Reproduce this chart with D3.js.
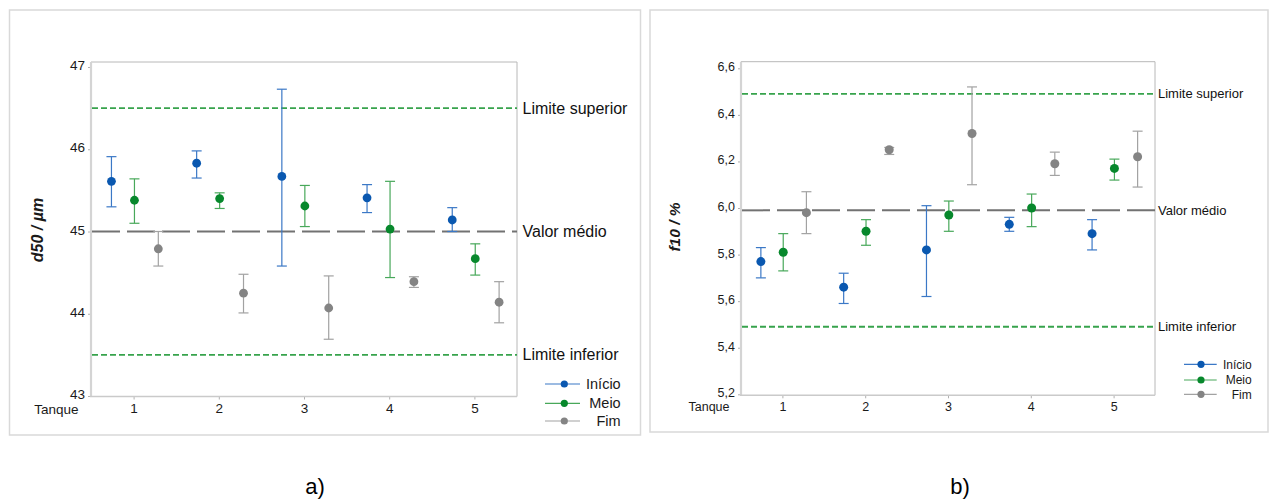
<!DOCTYPE html>
<html>
<head>
<meta charset="utf-8">
<script src="https://cdn.jsdelivr.net/npm/d3@7"></script>
<style>
  html, body { margin: 0; padding: 0; background: #fff; }
  svg { display: block; font-family: "Liberation Sans", Arial, sans-serif; }
</style>
</head>
<body>
<svg id="chart" width="1270" height="500"></svg>
<script>
// Tanks and sampling phases
const tanques = [1, 2, 3, 4, 5];
const fases = ["Início", "Meio", "Fim"];
const faseColors = ["#0a58b0", "#07882c", "#848484"];
const barColors = ["#3b78c6", "#48a85a", "#a2a2a2"];
const faseOffsets = [-0.26, 0.01, 0.29];

// d50 (µm): mean and interval bounds per phase, tanks 1..5
const d50Inicio   = [45.61, 45.83, 45.67, 45.41, 45.14];
const d50InicioLo = [45.30, 45.65, 44.58, 45.23, 45.00];
const d50InicioHi = [45.91, 45.98, 46.73, 45.57, 45.29];
const d50Meio     = [45.38, 45.40, 45.31, 45.03, 44.67];
const d50MeioLo   = [45.10, 45.28, 45.06, 44.44, 44.47];
const d50MeioHi   = [45.64, 45.47, 45.56, 45.61, 44.85];
const d50Fim      = [44.79, 44.25, 44.07, 44.39, 44.14];
const d50FimLo    = [44.58, 44.01, 43.69, 44.32, 43.89];
const d50FimHi    = [45.00, 44.48, 44.46, 44.45, 44.39];
const d50Ticks = [43, 44, 45, 46, 47];
const d50Refs = [46.5, 45.0, 43.5];

// f10 (%): mean and interval bounds per phase, tanks 1..5
const f10Inicio   = [5.77, 5.66, 5.82, 5.93, 5.89];
const f10InicioLo = [5.70, 5.59, 5.62, 5.90, 5.82];
const f10InicioHi = [5.83, 5.72, 6.01, 5.96, 5.95];
const f10Meio     = [5.81, 5.90, 5.97, 6.00, 6.17];
const f10MeioLo   = [5.73, 5.84, 5.90, 5.92, 6.12];
const f10MeioHi   = [5.89, 5.95, 6.03, 6.06, 6.21];
const f10Fim      = [5.98, 6.25, 6.32, 6.19, 6.22];
const f10FimLo    = [5.89, 6.23, 6.10, 6.14, 6.09];
const f10FimHi    = [6.07, 6.26, 6.52, 6.24, 6.33];
const f10Ticks = [5.2, 5.4, 5.6, 5.8, 6.0, 6.2, 6.4, 6.6];
const f10Refs = [6.49, 5.99, 5.49];

const refLabels = ["Limite superior", "Valor médio", "Limite inferior"];

const commaFmt = d3.formatLocale({decimal: ",", thousands: ".", grouping: [3], currency: ["", ""]});

const svg = d3.select("#chart");

function drawPanel(cfg) {
  const g = svg.append("g");

  // outer panel border
  g.append("rect")
    .attr("x", cfg.box[0]).attr("y", cfg.box[1])
    .attr("width", cfg.box[2]).attr("height", cfg.box[3])
    .attr("fill", "none").attr("stroke", "#d9d9d9").attr("stroke-width", 1.5);

  const x = d3.scaleLinear().domain([0.5, 5.5]).range([cfg.left, cfg.right]);
  const y = d3.scaleLinear().domain(cfg.yDomain).range(cfg.yRange);
  const top = cfg.top, bottom = cfg.bottom;

  // plot frame (top and right)
  g.append("path")
    .attr("d", `M${cfg.left},${top}H${cfg.right}V${bottom}`)
    .attr("fill", "none").attr("stroke", "#b8b8b8").attr("stroke-width", 1);

  // y axis
  const yAxis = g.append("g").attr("transform", `translate(${cfg.left},0)`)
    .call(d3.axisLeft(y).tickValues(cfg.ticks).tickSize(3).tickPadding(3).tickFormat(cfg.tickFmt));
  yAxis.select(".domain").remove();
  yAxis.selectAll(".tick line").attr("stroke", "#b0b0b0");
  yAxis.selectAll(".tick text").attr("fill", "#1a1a1a").attr("dy", "0.2em")
    .style("font-size", cfg.tickFont + "px").style("font-family", "Liberation Sans, Arial, sans-serif");
  g.append("line")
    .attr("x1", cfg.left).attr("x2", cfg.left).attr("y1", top).attr("y2", bottom)
    .attr("stroke", "#d4d4d4").attr("stroke-width", 2.2);

  // x axis
  const xAxis = g.append("g").attr("transform", `translate(0,${bottom})`)
    .call(d3.axisBottom(x).tickValues(tanques).tickSize(3).tickPadding(cfg.xPad).tickFormat(d3.format("d")));
  xAxis.select(".domain").remove();
  xAxis.selectAll(".tick line").attr("stroke", "#b0b0b0");
  xAxis.selectAll(".tick text").attr("fill", "#1a1a1a")
    .style("font-size", cfg.tickFont + "px").style("font-family", "Liberation Sans, Arial, sans-serif");
  g.append("line")
    .attr("x1", cfg.left - 1).attr("x2", cfg.right).attr("y1", bottom).attr("y2", bottom)
    .attr("stroke", "#cacaca").attr("stroke-width", 1.6);

  g.append("text")
    .attr("x", cfg.tanqueX).attr("y", cfg.tanqueY)
    .attr("text-anchor", "end").attr("fill", "#1a1a1a")
    .style("font-size", cfg.tickFont + "px")
    .text("Tanque");

  // y axis title
  g.append("text")
    .attr("transform", `translate(${cfg.titleX},${cfg.titleY}) rotate(-90)`)
    .attr("text-anchor", "middle").attr("dy", "0.35em")
    .attr("fill", "#1a1a1a")
    .style("font-size", cfg.titleFont + "px").style("font-style", "italic").style("font-weight", "bold")
    .text(cfg.title);

  // reference lines
  const refStyles = [
    {stroke: "#37a34c", dash: "6,3", w: 1.8},
    {stroke: "#727272", dash: "28,7", w: 2},
    {stroke: "#37a34c", dash: "6,3", w: 1.8}
  ];
  cfg.refs.forEach((v, i) => {
    g.append("line")
      .attr("x1", cfg.left + 1).attr("x2", cfg.right)
      .attr("y1", y(v)).attr("y2", y(v))
      .attr("stroke", refStyles[i].stroke).attr("stroke-width", refStyles[i].w)
      .attr("stroke-dasharray", refStyles[i].dash);
    g.append("text")
      .attr("x", cfg.right + cfg.refLabelGap).attr("y", y(v)).attr("dy", "0.35em")
      .attr("fill", "#111")
      .style("font-size", cfg.refFont + "px")
      .text(refLabels[i]);
  });

  // interval bars and mean markers
  const cap = 5;
  cfg.series.forEach((s, k) => {
    const data = tanques.map((t, i) => ({t, m: s.mean[i], lo: s.lo[i], hi: s.hi[i]}));
    const sg = g.append("g");
    const cx = d => x(d.t + faseOffsets[k]);
    sg.selectAll("line.bar").data(data).join("line")
      .attr("x1", cx).attr("x2", cx)
      .attr("y1", d => y(d.lo)).attr("y2", d => y(d.hi))
      .attr("stroke", barColors[k]).attr("stroke-width", 1.2);
    sg.selectAll("line.capHi").data(data).join("line")
      .attr("x1", d => cx(d) - cap).attr("x2", d => cx(d) + cap)
      .attr("y1", d => y(d.hi)).attr("y2", d => y(d.hi))
      .attr("stroke", barColors[k]).attr("stroke-width", 1.2);
    sg.selectAll("line.capLo").data(data).join("line")
      .attr("x1", d => cx(d) - cap).attr("x2", d => cx(d) + cap)
      .attr("y1", d => y(d.lo)).attr("y2", d => y(d.lo))
      .attr("stroke", barColors[k]).attr("stroke-width", 1.2);
    sg.selectAll("circle").data(data).join("circle")
      .attr("cx", cx).attr("cy", d => y(d.m)).attr("r", cfg.dotR)
      .attr("fill", faseColors[k]);
  });

  // legend
  fases.forEach((f, k) => {
    const ly = cfg.legend.y[k];
    g.append("line")
      .attr("x1", cfg.legend.x1).attr("x2", cfg.legend.x2).attr("y1", ly).attr("y2", ly)
      .attr("stroke", barColors[k]).attr("stroke-width", 1.2);
    g.append("circle")
      .attr("cx", cfg.legend.dot).attr("cy", ly).attr("r", 3.6).attr("fill", faseColors[k]);
    g.append("text")
      .attr("x", cfg.legend.textX).attr("y", ly).attr("dy", "0.35em")
      .attr("text-anchor", "end").attr("fill", "#1a1a1a")
      .style("font-size", cfg.legend.font + "px")
      .text(f);
  });

  // panel letter
  g.append("text")
    .attr("x", cfg.letterX).attr("y", 494)
    .attr("text-anchor", "middle").attr("fill", "#000")
    .style("font-size", "22px")
    .text(cfg.letter);
}

drawPanel({
  box: [9.5, 10, 631, 425],
  left: 91, right: 517, top: 62, bottom: 396.5,
  yDomain: [43, 47], yRange: [396, 67],
  ticks: d50Ticks, tickFmt: d3.format("d"), tickFont: 13.5, xPad: 4,
  tanqueX: 78.5, tanqueY: 414,
  title: "d50 / µm", titleX: 37, titleY: 230, titleFont: 16,
  refs: d50Refs, refFont: 16, refLabelGap: 5.5,
  dotR: 4.4,
  series: [
    {mean: d50Inicio, lo: d50InicioLo, hi: d50InicioHi},
    {mean: d50Meio, lo: d50MeioLo, hi: d50MeioHi},
    {mean: d50Fim, lo: d50FimLo, hi: d50FimHi}
  ],
  legend: {x1: 545, x2: 580, dot: 564.3, textX: 620.7, y: [384, 403.3, 421], font: 14.5},
  letterX: 315, letter: "a)"
});

drawPanel({
  box: [650, 10, 618, 422],
  left: 741, right: 1155, top: 61.7, bottom: 395.3,
  yDomain: [5.2, 6.6], yRange: [394.3, 68.3],
  ticks: f10Ticks, tickFmt: commaFmt.format(".1f"), tickFont: 12.5, xPad: 4,
  tanqueX: 729.5, tanqueY: 410.5,
  title: "f10 / %", titleX: 675, titleY: 227, titleFont: 15.5,
  refs: f10Refs, refFont: 13, refLabelGap: 3,
  dotR: 4.5,
  series: [
    {mean: f10Inicio, lo: f10InicioLo, hi: f10InicioHi},
    {mean: f10Meio, lo: f10MeioLo, hi: f10MeioHi},
    {mean: f10Fim, lo: f10FimLo, hi: f10FimHi}
  ],
  legend: {x1: 1184, x2: 1216.7, dot: 1201, textX: 1251.7, y: [364.3, 380, 394.3], font: 12},
  letterX: 960, letter: "b)"
});
</script>
</body>
</html>
